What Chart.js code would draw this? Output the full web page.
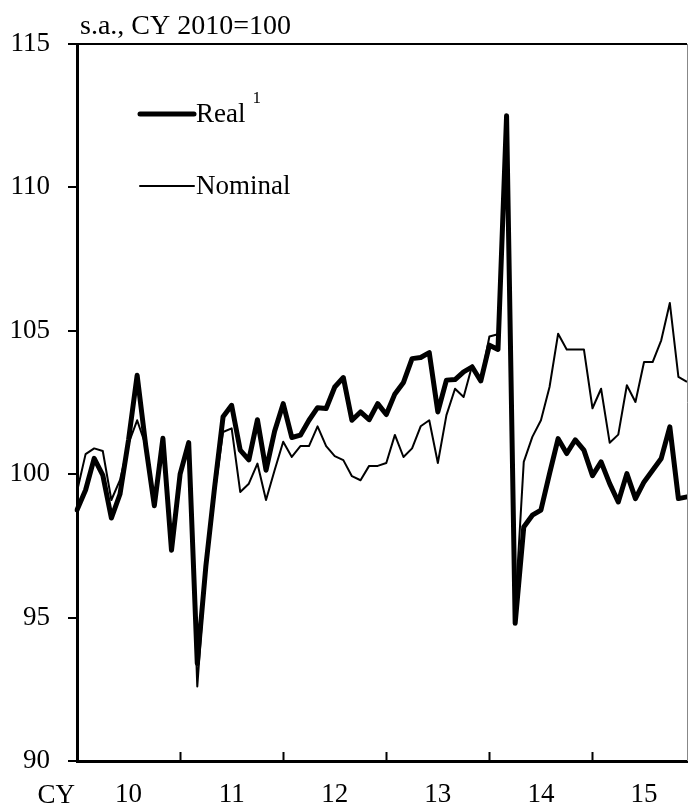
<!DOCTYPE html>
<html>
<head>
<meta charset="utf-8">
<script src="https://cdn.jsdelivr.net/npm/chart.js@4.4.1/dist/chart.umd.min.js"></script>
<style>
body { margin: 0; background: #fff; }
#wrap { width: 688px; height: 807px; }
</style>
</head>
<body>
<div id="wrap"><canvas id="myChart" width="688" height="807"></canvas></div>
<script>
// monthly, Jan 2010 - Dec 2015
var years = ['10', '11', '12', '13', '14', '15'];
var yMin = 90, yMax = 115, yStep = 5;

var real = [
    98.75, 99.45, 100.55, 99.97, 98.47, 99.3, 101.2, 103.45, 101.0, 98.9, 101.25, 97.35,
    100.0, 101.1, 93.4, 96.8, 99.5, 102.0, 102.4, 100.84, 100.5, 101.9, 100.14, 101.5,
    102.46, 101.28, 101.36, 101.88, 102.32, 102.29, 103.04, 103.37, 101.88, 102.17, 101.9, 102.46,
    102.08, 102.8, 103.2, 104.03, 104.07, 104.24, 102.17, 103.28, 103.3, 103.57, 103.74, 103.25,
    104.5, 104.35, 112.5, 94.8, 98.16, 98.57, 98.75, 100.02, 101.24, 100.72, 101.2, 100.84,
    99.95, 100.43, 99.67, 99.03, 100.02, 99.15, 99.73, 100.14, 100.55, 101.65, 99.15, 99.21
];
var nominal = [
    99.4, 100.7, 100.9, 100.81, 99.1, 99.79, 101.07, 101.88, 101.0, 98.86, 101.3, 97.35,
    100.0, 101.1, 92.6, 96.8, 99.3, 101.47, 101.6, 99.38, 99.67, 100.37, 99.1, 100.14,
    101.13, 100.6, 100.98, 100.98, 101.67, 100.98, 100.63, 100.49, 99.93, 99.79, 100.29, 100.29,
    100.39, 101.37, 100.6, 100.9, 101.67, 101.88, 100.39, 102.06, 102.98, 102.69, 103.8, 103.25,
    104.8, 104.88, 112.5, 95.3, 100.43, 101.3, 101.88, 103.04, 104.9, 104.35, 104.35, 104.35,
    102.3, 102.98, 101.1, 101.38, 103.1, 102.52, 103.91, 103.91, 104.67, 105.97, 103.39, 103.22
];

var labels = [];
for (var y = 0; y < years.length; y++) {
    for (var m = 1; m <= 12; m++) {
        labels.push(years[y] + '/' + m);
    }
}

var serif = "'Liberation Serif', 'Times New Roman', serif";

var framePlugin = {
    id: 'frame',
    afterDraw: function (chart) {
        var ctx = chart.ctx;
        var area = chart.chartArea;
        var xs = chart.scales.x;
        ctx.save();
        ctx.strokeStyle = '#000';
        ctx.lineWidth = 2;
        ctx.beginPath();
        ctx.moveTo(area.left, area.top);
        ctx.lineTo(area.right, area.top);
        ctx.stroke();

        // year ticks pointing into the plot
        for (var i = 12; i < labels.length; i += 12) {
            var px = Math.round(xs.getPixelForValue(i)) + 0.5;
            ctx.beginPath();
            ctx.moveTo(px, area.bottom);
            ctx.lineTo(px, area.bottom - 9);
            ctx.stroke();
        }

        ctx.strokeStyle = '#888';
        ctx.lineWidth = 1;
        ctx.beginPath();
        ctx.moveTo(area.right + 0.5, area.top);
        ctx.lineTo(area.right + 0.5, area.bottom);
        ctx.stroke();

        ctx.fillStyle = '#000';
        ctx.font = '28px ' + serif;
        ctx.textAlign = 'left';
        ctx.textBaseline = 'alphabetic';
        ctx.fillText('s.a., CY 2010=100', area.left + 3, area.top - 10);

        ctx.font = '27px ' + serif;
        ctx.textAlign = 'right';
        ctx.fillText('CY', area.left - 2, area.bottom + 42);

        // legend
        var items = [
            { ds: chart.data.datasets[0], y: 114, sup: '1' },
            { ds: chart.data.datasets[1], y: 186, sup: '' }
        ];
        items.forEach(function (it) {
            ctx.strokeStyle = '#000';
            ctx.lineWidth = it.ds.borderWidth;
            ctx.lineCap = 'round';
            ctx.beginPath();
            ctx.moveTo(140, it.y);
            ctx.lineTo(194, it.y);
            ctx.stroke();
            ctx.font = '27px ' + serif;
            ctx.textAlign = 'left';
            ctx.textBaseline = 'middle';
            ctx.fillText(it.ds.label, 196, it.y + 1);
            if (it.sup) {
                var w = ctx.measureText(it.ds.label).width;
                ctx.font = '17px ' + serif;
                ctx.fillText(it.sup, 196 + w + 7, it.y - 15);
            }
        });
        ctx.restore();
    }
};

var ctx = document.getElementById('myChart').getContext('2d');
var myChart = new Chart(ctx, {
    type: 'line',
    data: {
        labels: labels,
        datasets: [{
            label: 'Real',
            data: real,
            borderColor: '#000',
            borderWidth: 5,
            borderJoinStyle: 'round',
            borderCapStyle: 'round',
            pointRadius: 0,
            tension: 0
        }, {
            label: 'Nominal',
            data: nominal,
            borderColor: '#000',
            borderWidth: 2,
            borderJoinStyle: 'round',
            pointRadius: 0,
            tension: 0
        }]
    },
    options: {
        responsive: false,
        animation: false,
        devicePixelRatio: 1,
        layout: { padding: { top: 44, right: 1, left: 0, bottom: 0 } },
        plugins: {
            legend: { display: false },
            tooltip: { enabled: false }
        },
        scales: {
            x: {
                type: 'category',
                offset: false,
                grid: { display: false, drawTicks: false },
                border: { color: '#000', width: 3 },
                ticks: {
                    autoSkip: false,
                    maxRotation: 0,
                    padding: 18,
                    color: '#000',
                    font: { family: serif, size: 27 },
                    callback: function (val, idx) {
                        return idx % 12 === 6 ? years[Math.floor(idx / 12)] : '';
                    }
                },
                afterFit: function (scale) {
                    scale.height = 46;
                    scale.paddingLeft = 0;
                    scale.paddingRight = 0;
                }
            },
            y: {
                min: yMin,
                max: yMax,
                grid: { drawOnChartArea: false, tickLength: 9, color: '#000', lineWidth: 2 },
                border: { color: '#000', width: 3 },
                ticks: {
                    stepSize: yStep,
                    padding: 18,
                    color: '#000',
                    font: { family: serif, size: 27 }
                },
                afterFit: function (scale) {
                    scale.width = 77;
                    scale.paddingTop = 0;
                    scale.paddingBottom = 0;
                }
            }
        }
    },
    plugins: [framePlugin]
});
</script>
</body>
</html>
